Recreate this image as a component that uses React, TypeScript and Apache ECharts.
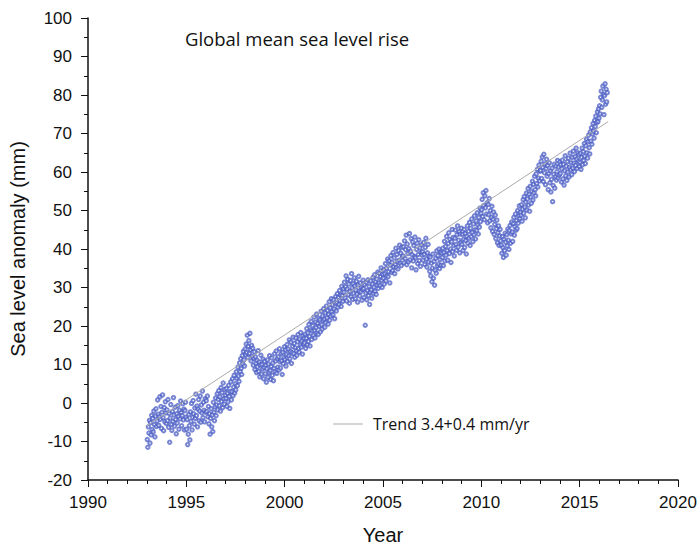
import React, { useEffect, useRef } from "react";
import * as echarts from "echarts";

// Sea level anomaly (mm), ~36 samples per year (10-day cycles)
const sea1993 = [-9.5,-11.5,-6.2,-7.8,-4.5,-10.4,-5.1,-8.3,-3.2,-6.9,-4.0,-7.5,-2.1,-5.6,-8.8,-3.4,-1.5,-6.1,-4.7,0.8,-2.9,-5.8,-3.6,1.6,-4.2,-0.9,-6.6,-2.4,2.1,-3.8,-7.2,-1.2,-4.9,0.3,-2.6,-5.3];
const sea1994 = [-1.8,-4.6,0.9,-6.3,-2.7,-10.2,-3.9,-0.4,-5.5,-7.1,-2.2,-4.8,1.4,-3.1,-6.0,-1.1,-4.3,-8.0,-2.8,-5.2,-0.7,-3.5,-6.8,-1.9,-4.1,0.5,-2.5,-5.9,-3.3,-0.2,-4.4,-1.6,-7.0,-2.0,0.2,-3.7];
const sea1995 = [-6.8,-4.3,-10.8,-8.1,-3.0,-5.9,-9.6,-2.3,-4.8,-0.1,-7.0,-3.7,0.6,-2.8,-5.5,-1.3,-4.0,2.3,-3.3,-0.8,-6.2,-1.6,0.9,-4.6,-2.1,1.8,-5.0,-0.5,-2.6,3.1,-3.8,0.2,-1.9,-4.9,1.1,-2.4];
const sea1996 = [0.6,-2.2,1.8,-3.6,-0.9,-5.4,-2.8,-8.1,-4.0,-1.5,-6.2,-3.1,-7.4,0.2,-2.4,-4.6,-1.0,1.3,-3.3,-0.5,2.4,-1.8,0.9,3.2,-0.7,1.6,-2.1,4.0,0.4,2.7,-1.2,5.2,1.1,-0.3,3.5,2.0];
const sea1997 = [1.2,3.8,-0.9,2.5,0.3,4.6,1.7,-1.4,3.0,5.5,0.8,2.9,6.3,1.9,4.1,7.2,2.6,5.0,3.4,8.1,6.4,4.5,9.3,7.0,5.6,10.4,8.2,11.5,9.0,7.4,12.3,10.1,13.4,11.2,9.6,14.0];
const sea1998 = [12.5,15.3,13.1,17.6,11.8,14.7,16.2,12.9,18.1,13.8,10.9,15.0,12.1,14.2,9.8,11.6,13.3,8.7,12.0,10.3,7.9,11.1,9.4,13.6,8.2,10.6,6.8,9.9,12.4,7.5,10.0,8.8,11.4,6.3,9.2,10.8];
const sea1999 = [7.6,9.8,5.4,8.9,11.2,6.7,10.1,7.9,12.3,8.4,6.1,9.5,11.7,7.2,10.4,5.8,9.0,12.8,8.1,10.9,13.5,7.7,11.5,9.3,12.0,8.6,14.1,10.7,9.1,12.9,11.0,7.4,13.2,10.2,11.8,14.6];
const sea2000 = [11.3,13.8,9.6,12.6,15.2,10.8,14.0,12.2,16.4,11.5,13.4,15.8,10.3,13.0,14.7,17.1,12.8,15.5,11.9,14.3,16.9,13.6,12.4,15.9,17.8,14.1,13.2,16.6,15.0,18.3,14.5,16.1,12.7,17.4,15.3,16.8];
const sea2001 = [15.6,17.9,14.2,16.8,19.3,15.1,18.2,16.0,20.4,17.3,14.8,19.0,21.2,16.5,18.7,20.1,17.6,22.3,18.9,16.9,21.0,19.6,23.1,18.1,20.7,17.8,22.0,19.9,21.6,18.5,23.8,20.3,19.2,22.6,21.4,24.5];
const sea2002 = [21.8,19.7,23.4,20.9,25.2,22.1,24.0,20.5,23.0,26.3,21.5,24.7,22.6,27.1,23.7,25.5,22.9,26.8,24.4,21.9,25.9,27.7,23.9,26.1,28.4,24.9,27.4,25.6,29.2,26.6,28.0,25.1,30.3,27.9,26.4,29.6];
const sea2003 = [28.8,31.4,27.3,30.2,33.0,26.5,29.6,32.1,28.1,30.9,25.9,29.0,31.8,27.6,33.6,29.9,26.9,31.0,28.5,32.5,30.4,27.1,29.3,31.6,28.3,26.2,30.7,32.9,29.1,27.8,31.2,28.9,30.0,26.7,29.5,31.9];
const sea2004 = [29.7,27.4,30.8,20.2,28.6,31.3,26.8,29.2,32.0,27.9,30.3,25.6,28.8,31.7,29.4,27.2,30.9,32.6,28.4,30.1,33.3,29.0,31.5,28.2,32.2,30.6,34.0,29.8,31.1,33.7,30.5,32.8,35.1,31.9,30.0,33.4];
const sea2005 = [32.4,34.6,30.9,33.5,36.2,31.7,35.0,33.1,37.4,32.8,34.1,36.9,31.2,35.8,38.3,33.9,36.5,34.4,39.1,35.4,37.7,33.6,36.0,40.2,35.2,38.6,36.7,34.8,39.6,37.1,41.0,36.3,38.9,35.7,40.4,37.9];
const sea2006 = [38.2,40.6,36.4,42.1,37.5,39.8,43.6,35.9,41.3,38.8,36.7,40.1,44.0,37.2,39.4,42.7,35.1,38.5,41.8,36.9,40.9,38.0,43.1,37.7,34.6,39.9,41.5,36.2,38.6,42.4,37.0,40.3,35.5,39.1,41.1,38.4];
const sea2007 = [39.3,37.1,41.7,38.6,36.0,40.4,42.8,37.4,35.3,39.0,41.2,36.6,38.1,34.2,37.9,33.0,36.3,31.5,35.0,38.7,32.4,36.8,30.6,34.5,37.6,33.7,39.5,35.6,38.3,36.1,40.0,34.9,37.3,39.2,35.8,38.9];
const sea2008 = [37.8,40.2,35.7,39.1,42.0,36.9,40.7,38.4,43.3,39.6,37.1,41.4,44.2,38.8,42.5,40.0,36.5,41.9,45.1,39.3,43.0,40.9,38.2,42.8,44.9,41.2,39.7,43.7,46.0,40.5,42.3,44.5,39.0,43.9,41.6,45.4];
const sea2009 = [41.2,43.8,39.6,42.5,45.1,40.4,44.0,42.2,38.7,43.3,46.0,41.5,44.6,42.8,46.9,40.9,45.4,43.2,47.8,44.3,41.9,46.5,43.7,48.6,45.0,42.6,47.3,44.8,49.4,46.2,43.9,48.2,45.7,50.6,47.1,49.3];
const sea2010 = [50.2,52.9,48.4,54.6,51.3,47.6,53.8,50.7,55.2,49.1,52.0,46.8,51.6,48.9,53.1,47.3,50.0,45.5,48.2,51.1,44.6,47.7,49.6,43.8,46.4,48.8,42.7,45.3,47.5,41.6,44.2,46.0,40.9,43.4,45.1,42.1];
const sea2011 = [41.0,38.9,43.2,40.3,37.8,42.5,39.6,44.1,41.8,38.4,43.7,40.8,45.2,42.3,39.9,44.8,46.1,41.5,43.9,47.0,44.4,42.0,46.6,48.2,43.6,45.8,49.1,44.9,47.4,45.3,50.0,46.7,48.6,51.2,47.9,49.5];
const sea2012 = [48.8,51.5,47.2,50.4,52.8,49.3,53.6,50.9,48.1,52.2,54.5,50.1,53.0,55.7,51.4,54.2,49.8,56.3,53.5,51.9,55.0,57.6,52.7,56.8,54.6,58.9,55.4,53.8,59.5,57.0,60.7,56.1,58.4,61.8,57.7,60.2];
const sea2013 = [60.4,62.8,58.3,63.9,61.2,57.5,64.6,59.8,62.1,56.7,60.9,63.3,58.9,61.7,55.4,59.6,62.4,57.2,60.3,54.8,58.1,61.0,52.3,56.5,59.4,62.0,55.8,58.7,61.5,57.9,60.1,63.0,58.5,61.3,59.2,62.6];
const sea2014 = [59.6,61.9,57.4,60.8,63.1,58.2,62.0,56.6,60.3,64.2,59.0,61.5,57.8,62.7,60.0,63.6,58.7,61.2,64.9,60.6,62.4,59.3,63.8,61.0,65.4,62.3,60.1,64.0,61.7,66.2,63.3,60.9,65.0,62.8,64.5,61.4];
const sea2015 = [62.5,64.9,60.7,63.8,66.2,61.9,65.3,63.0,67.4,64.1,62.2,66.8,68.5,65.0,63.6,67.9,69.6,66.3,64.7,70.4,68.0,71.5,67.2,69.9,72.6,70.6,68.8,73.4,71.8,74.5,70.2,72.9,75.6,73.1,76.4,74.0];
const sea2016 = [77.2,75.1,79.4,81.0,76.8,78.7,82.3,80.1,74.9,79.8,82.9,77.6,81.5,78.2,80.6];

const yearStarts = [1993,1994,1995,1996,1997,1998,1999,2000,2001,2002,2003,2004,2005,2006,2007,2008,2009,2010,2011,2012,2013,2014,2015,2016];
const yearValues = [sea1993,sea1994,sea1995,sea1996,sea1997,sea1998,sea1999,sea2000,sea2001,sea2002,sea2003,sea2004,sea2005,sea2006,sea2007,sea2008,sea2009,sea2010,sea2011,sea2012,sea2013,sea2014,sea2015,sea2016];
const samplesPerYear = 36;

// Trend line end points
const trendYears = [1993.0, 2016.45];
const trendValues = [-5.9, 73.1];
const trendName = "Trend 3.4+0.4 mm/yr";

const titleText = "Global mean sea level rise";
const xTicks = { min: 1990, max: 2020, interval: 5 };
const yTicks = { min: -20, max: 100, interval: 10 };

export default function App() {
  const ref = useRef<HTMLDivElement>(null);
  useEffect(() => {
    document.body.style.margin = "0";
    if (!ref.current) return;
    const chart = echarts.init(ref.current, null, { renderer: "svg" });
    const points: number[][] = [];
    yearStarts.forEach((yr, k) => {
      yearValues[k].forEach((v, i) => {
        points.push([yr + (i + 0.5) / samplesPerYear, v]);
      });
    });
    const trend = trendYears.map((t, i) => [t, trendValues[i]]);
    const axisFont = "Liberation Sans";
    const labelFont = "Open Sans";
    chart.setOption({
      animation: false,
      backgroundColor: "#ffffff",
      title: {
        text: titleText,
        left: 185,
        top: 29,
        padding: 0,
        textStyle: { fontFamily: labelFont, fontSize: 18.5, fontWeight: "normal", color: "#111" },
      },
      legend: {
        data: [{ name: trendName, icon: "rect" }],
        left: 333,
        top: 416,
        padding: 0,
        itemWidth: 30,
        itemHeight: 1,
        textStyle: { fontFamily: labelFont, fontSize: 16, color: "#111", padding: [0, 0, 0, 5] },
      },
      grid: { left: 88, right: 22, top: 18, bottom: 63, containLabel: false },
      xAxis: {
        type: "value",
        min: xTicks.min,
        max: xTicks.max,
        interval: xTicks.interval,
        name: "Year",
        nameLocation: "middle",
        nameGap: 45,
        nameTextStyle: { fontFamily: axisFont, fontSize: 20, color: "#111" },
        axisLine: { show: true, onZero: false, lineStyle: { color: "#111", width: 1.5 } },
        axisTick: { show: true, length: 7, lineStyle: { color: "#111", width: 1 } },
        minorTick: { show: true, splitNumber: 5, length: 4, lineStyle: { color: "#111", width: 1 } },
        splitLine: { show: false },
        axisLabel: { fontFamily: axisFont, fontSize: 17, color: "#111", margin: 14, formatter: (v: number) => String(v) },
      },
      yAxis: {
        type: "value",
        min: yTicks.min,
        max: yTicks.max,
        interval: yTicks.interval,
        name: "Sea level anomaly (mm)",
        nameLocation: "middle",
        nameGap: 60,
        nameTextStyle: { fontFamily: axisFont, fontSize: 20, color: "#111" },
        axisLine: { show: true, onZero: false, lineStyle: { color: "#111", width: 1.5 } },
        axisTick: { show: true, length: 7, lineStyle: { color: "#111", width: 1 } },
        minorTick: { show: true, splitNumber: 2, length: 4, lineStyle: { color: "#111", width: 1 } },
        splitLine: { show: false },
        axisLabel: { fontFamily: axisFont, fontSize: 17, color: "#111", margin: 16, formatter: (v: number) => String(v) },
      },
      series: [
        {
          type: "scatter",
          name: "Sea level",
          data: points,
          symbol: "emptyCircle",
          symbolSize: 3.4,
          itemStyle: { color: "#4a5cc4", borderColor: "#4a5cc4", borderWidth: 0.7, opacity: 0.75 },
          z: 2,
        },
        {
          type: "line",
          name: trendName,
          data: trend,
          symbol: "none",
          itemStyle: { color: "#aaaaaa" },
          lineStyle: { color: "#aaaaaa", width: 1 },
          z: 3,
        },
      ],
    });
    return () => chart.dispose();
  }, []);
  return <div ref={ref} style={{ width: 700, height: 550 }} />;
}
